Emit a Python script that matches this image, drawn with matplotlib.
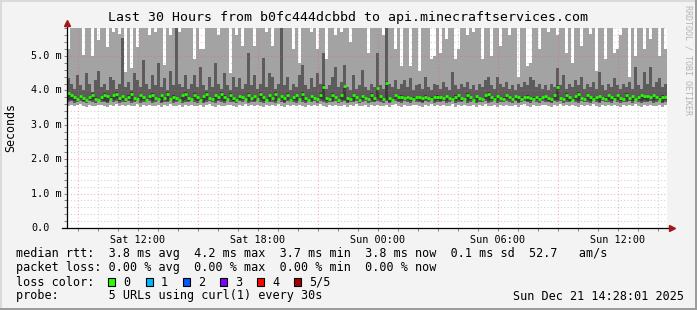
import matplotlib
matplotlib.use("Agg")
import matplotlib.pyplot as plt
from matplotlib.patches import Rectangle

W, H = 697, 310
MONO = "DejaVu Sans Mono"

# time axis: hours since Sat 00:00, 30 hours ending Sun 14:28
t_start = 8 + 28 / 60
t_step = 0.15  # 9 minute steps
tick_hours = [12, 18, 24, 30, 36]
tick_labels = ["Sat 12:00", "Sat 18:00", "Sun 00:00", "Sun 06:00", "Sun 12:00"]
y_ticks = [0, 1, 2, 3, 4, 5]
y_labels = ["0.0", "1.0 m", "2.0 m", "3.0 m", "4.0 m", "5.0 m"]

# values in 1/100 ms
rtt_max = [
    520, 600, 600, 600, 600, 503, 600, 600, 500, 600,
    547, 600, 600, 527, 600, 570, 600, 565, 600, 454,
    600, 464, 600, 527, 600, 600, 600, 560, 600, 570,
    600, 600, 474, 600, 560, 600, 600, 570, 600, 600,
    600, 600, 490, 600, 520, 520, 600, 600, 600, 600,
    560, 600, 600, 600, 450, 600, 560, 600, 530, 600,
    600, 600, 530, 600, 600, 600, 570, 600, 530, 600,
    600, 600, 600, 600, 600, 520, 600, 480, 600, 600,
    600, 570, 600, 520, 600, 600, 490, 600, 600, 560,
    600, 570, 600, 600, 540, 600, 600, 600, 600, 600,
    510, 600, 600, 600, 600, 560, 600, 600, 600, 520,
    600, 470, 600, 600, 470, 600, 600, 455, 600, 600,
    600, 490, 500, 600, 510, 600, 550, 600, 600, 490,
    520, 600, 600, 560, 600, 570, 600, 600, 490, 600,
    600, 500, 600, 600, 530, 600, 600, 560, 600, 600,
    440, 600, 600, 470, 480, 600, 600, 520, 600, 600,
    570, 600, 600, 560, 600, 600, 510, 600, 480, 600,
    600, 530, 600, 600, 565, 600, 455, 600, 600, 490,
    600, 600, 510, 520, 560, 600, 600, 440, 600, 500,
    600, 600, 520, 600, 550, 600, 600, 500, 600, 520,
]
rtt_hi = [
    435, 420, 405, 445, 415, 400, 450, 420, 395, 430,
    455, 410, 420, 400, 440, 430, 405, 420, 551, 410,
    425, 400, 450, 430, 410, 488, 420, 405, 445, 415,
    479, 410, 435, 400, 455, 415, 600, 420, 410, 445,
    405, 420, 445, 410, 469, 415, 400, 440, 410, 479,
    420, 405, 450, 415, 400, 440, 410, 435, 405, 420,
    508, 415, 445, 405, 420, 494, 410, 450, 440, 405,
    420, 600, 415, 440, 400, 420, 410, 445, 474, 415,
    405, 435, 410, 450, 420, 508, 405, 415, 440, 469,
    410, 425, 474, 410, 400, 445, 405, 415, 459, 410,
    400, 420, 410, 508, 415, 405, 600, 420, 410, 430,
    405, 420, 430, 410, 435, 400, 415, 420, 405, 440,
    410, 400, 420, 415, 405, 425, 410, 400, 454, 415,
    405, 420, 410, 425, 405, 415, 400, 420, 410, 430,
    440, 415, 405, 440, 420, 410, 425, 405, 415, 400,
    420, 410, 425, 415, 440, 430, 410, 420, 405, 415,
    400, 420, 410, 464, 415, 445, 405, 420, 410, 430,
    415, 440, 405, 420, 410, 425, 405, 454, 415, 400,
    420, 410, 435, 415, 405, 420, 410, 425, 405, 469,
    415, 405, 454, 420, 469, 410, 425, 435, 410, 420,
]
rtt_median = [
    392, 386, 380, 374, 384, 378, 372, 380, 388, 376,
    372, 380, 388, 384, 376, 386, 390, 378, 384, 374,
    382, 390, 378, 374, 386, 380, 372, 384, 388, 378,
    374, 386, 378, 390, 374, 382, 378, 372, 386, 390,
    378, 374, 388, 380, 372, 384, 390, 378, 374, 386,
    380, 390, 382, 374, 388, 378, 372, 384, 380, 374,
    388, 378, 384, 374, 390, 380, 372, 386, 378, 390,
    374, 384, 378, 388, 372, 380, 386, 374, 390, 378,
    372, 384, 378, 374, 388, 411, 378, 374, 388, 380,
    372, 386, 412, 378, 374, 386, 380, 372, 384, 378,
    374, 388, 378, 407, 384, 374, 422, 378, 372, 386,
    380, 382, 378, 380, 378, 376, 380, 380, 378, 382,
    378, 376, 380, 382, 380, 378, 384, 378, 376, 382,
    386, 378, 374, 388, 380, 372, 384, 378, 374, 386,
    390, 380, 376, 384, 378, 376, 386, 380, 374, 384,
    380, 376, 380, 382, 378, 376, 380, 376, 380, 384,
    378, 374, 386, 411, 378, 374, 388, 380, 372, 384,
    390, 378, 374, 386, 380, 376, 380, 384, 378, 376,
    386, 380, 376, 386, 378, 374, 388, 378, 384, 374,
    380, 386, 384, 384, 380, 386, 380, 376, 382, 380,
]
rtt_lo = [
    366, 368, 364, 367, 370, 365, 363, 368, 366, 364, 369, 367, 365, 362, 368, 366, 370, 364, 367, 365,
    368, 364, 366, 370, 363, 367, 365, 369, 364, 366, 368, 362, 367, 365, 370, 364, 366, 368, 363, 367,
    365, 369, 366, 364, 368, 362, 367, 370, 365, 363, 368, 366, 364, 369, 367, 365, 362, 368, 366, 370,
    364, 367, 365, 368, 366, 363, 369, 365, 367, 364, 370, 366, 362, 368, 365, 367, 364, 369, 366, 363,
    367, 365, 368, 364, 370, 366, 363, 367, 365, 369, 364, 366, 368, 362, 367, 365, 370, 364, 366, 368,
    363, 367, 365, 369, 366, 364, 368, 362, 367, 370, 365, 363, 368, 366, 364, 369, 367, 365, 362, 368,
    366, 370, 364, 367, 365, 368, 364, 366, 370, 363, 367, 365, 369, 364, 366, 368, 362, 367, 365, 370,
    364, 366, 368, 363, 367, 365, 369, 366, 364, 368, 362, 367, 370, 365, 363, 368, 366, 364, 369, 367,
    365, 362, 368, 366, 370, 364, 367, 365, 368, 366, 363, 369, 365, 367, 364, 370, 366, 362, 368, 365,
    367, 364, 369, 366, 363, 367, 365, 368, 364, 370, 366, 363, 367, 365, 369, 364, 366, 368, 362, 367,
]
rtt_min = [
    356, 358, 354, 357, 360, 355, 353, 358, 356, 354, 359, 357, 355, 352, 358, 356, 360, 354, 357, 355,
    358, 354, 356, 360, 353, 357, 355, 359, 354, 356, 358, 352, 357, 355, 360, 354, 356, 358, 353, 357,
    355, 359, 356, 354, 358, 352, 357, 360, 355, 353, 358, 356, 354, 359, 357, 355, 352, 358, 356, 360,
    354, 357, 355, 358, 356, 353, 359, 355, 357, 354, 360, 356, 352, 358, 355, 357, 354, 359, 356, 353,
    357, 355, 358, 354, 360, 356, 353, 357, 355, 359, 354, 356, 358, 352, 357, 355, 360, 354, 356, 358,
    353, 357, 355, 359, 356, 354, 358, 352, 357, 360, 355, 353, 358, 356, 354, 359, 357, 355, 352, 358,
    356, 360, 354, 357, 355, 358, 354, 356, 360, 353, 357, 355, 359, 354, 356, 358, 352, 357, 355, 360,
    354, 356, 358, 353, 357, 355, 359, 356, 354, 358, 352, 357, 360, 355, 353, 358, 356, 354, 359, 357,
    355, 352, 358, 356, 360, 354, 357, 355, 358, 356, 353, 359, 355, 357, 354, 360, 356, 352, 358, 355,
    357, 354, 359, 356, 353, 357, 355, 358, 354, 360, 356, 353, 357, 355, 359, 354, 356, 358, 352, 357,
]

loss_names = ["0", "1", "2", "3", "4", "5/5"]
loss_colors = ["#26ff00", "#00b8ff", "#0059ff", "#7e00ff", "#ff0000", "#a10000"]

n = len(rtt_median)
edges = [t_start + i * t_step for i in range(n + 1)]
ms = lambda arr: [v / 100 for v in arr]


def px(x, y):
    return x / W, 1 - y / H


fig = plt.figure(figsize=(W / 100, H / 100), dpi=100, facecolor="#f3f3f3")
ax = fig.add_axes([67 / W, 1 - 228 / H, 600 / W, 200 / H])
ax.set_facecolor("white")

# smoke
ax.stairs(ms(rtt_max), edges, baseline=ms(rtt_min), fill=True, color="#a3a3a3", lw=0, zorder=1)
ax.stairs(ms(rtt_hi), edges, baseline=ms(rtt_lo), fill=True, color="#5c5c5c", lw=0, zorder=1.1)
core_lo = [l / 100 + 0.05 for l in rtt_lo]
core_hi = [m / 100 + 0.04 for m in rtt_median]
ax.stairs(core_hi, edges, baseline=core_lo, fill=True, color="#3c3c3c", lw=0, zorder=1.2)

ax.set_xlim(edges[0], edges[-1])
ax.set_ylim(0, 5.814)
major_x = list(range(9, 39, 3))
ax.set_xticks(major_x)
ax.set_xticks(list(range(9, 39)), minor=True)
ax.set_yticks(y_ticks)
ax.set_yticks([v / 5 for v in range(0, 30)], minor=True)
# light grid stays under the smoke, red major grid sits on top
ax.set_axisbelow(True)
ax.grid(which="minor", color="#d4d4d4", ls=(0, (1, 2)), lw=0.8)
red = (0.95, 0.35, 0.35, 0.45)
ax.vlines(major_x, 0, 1, transform=ax.get_xaxis_transform(), colors=[red],
          linestyles=[(0, (1, 2))], lw=0.8, zorder=2.5)
ax.hlines(y_ticks[1:], 0, 1, transform=ax.get_yaxis_transform(), colors=[red],
          linestyles=[(0, (1, 2))], lw=0.8, zorder=2.5)
ax.set_xticklabels([tick_labels[tick_hours.index(h)] if h in tick_hours else ""
                    for h in major_x], family=MONO, fontsize=7.3)
ax.set_yticklabels([])
ax.tick_params(which="both", length=2, width=0.7, color="#808080", pad=3)
for s in ax.spines.values():
    s.set_visible(False)

for v, lab in zip(y_ticks, y_labels):
    ax.text(-36 / 600, v, lab, transform=ax.get_yaxis_transform(), ha="left",
            va="center", family=MONO, fontsize=7.3)

# median
ax.hlines(ms(rtt_median), edges[:-1], edges[1:], colors=loss_colors[0], lw=2.0, zorder=4)

# axes with arrows
ax.plot([-5 / 600, 1.006], [0, 0], transform=ax.transAxes, color="black", lw=0.9,
        clip_on=False, zorder=5)
ax.plot([0, 0], [0, 1.02], transform=ax.transAxes, color="black", lw=0.9,
        clip_on=False, zorder=5)
ax.plot([1.008], [0], transform=ax.transAxes, marker=">", color="#a01818", ms=4,
        clip_on=False, zorder=6)
ax.plot([0], [1.025], transform=ax.transAxes, marker="^", color="#a01818", ms=4,
        clip_on=False, zorder=6)

# texts
fig.text(*px(348, 18), "Last 30 Hours from b0fc444dcbbd to api.minecraftservices.com",
         ha="center", va="center", family=MONO, fontsize=9.5)
fig.text(*px(11, 128), "Seconds", rotation=90, ha="center", va="center",
         family=MONO, fontsize=8.4)
fig.text(*px(688, 60), "RRDTOOL / TOBI OETIKER", rotation=-90, ha="center", va="center",
         family=MONO, fontsize=6, color="#b4b4b4")

fs = 8.47
rows = [
    "median rtt:  3.8 ms avg  4.2 ms max  3.7 ms min  3.8 ms now  0.1 ms sd  52.7   am/s",
    "packet loss: 0.00 % avg  0.00 % max  0.00 % min  0.00 % now",
    "loss color:",
    "probe:       5 URLs using curl(1) every 30s",
]
for k, row in enumerate(rows):
    fig.text(*px(16, 254 + 14 * k), row, ha="left", va="center", family=MONO, fontsize=fs)
fig.text(*px(684, 296), "Sun Dec 21 14:28:01 2025", ha="right", va="center",
         family=MONO, fontsize=fs)

sq_x = [108, 146, 183, 220, 257, 294]
for x0, name, col in zip(sq_x, loss_names, loss_colors):
    fx, fy = px(x0, 286)
    fig.patches.append(Rectangle((fx, fy), 7 / W, 8 / H, transform=fig.transFigure,
                                 facecolor=col, edgecolor="black", lw=0.8))
    fig.text(*px(x0 + 15, 282), name, ha="left", va="center", family=MONO, fontsize=fs)

# 3d frame
for (x0, y0, w, h, c) in [(0, 0, 2, H, "#dadada"), (0, 0, W, 2, "#dadada"),
                          (W - 2, 0, 2, H, "#9c9c9c"), (0, H - 2, W, 2, "#9c9c9c")]:
    fx, fy = px(x0, y0 + h)
    fig.patches.append(Rectangle((fx, fy), w / W, h / H, transform=fig.transFigure,
                                 facecolor=c, edgecolor="none"))

fig.savefig("out.png", dpi=100, facecolor=fig.get_facecolor())
